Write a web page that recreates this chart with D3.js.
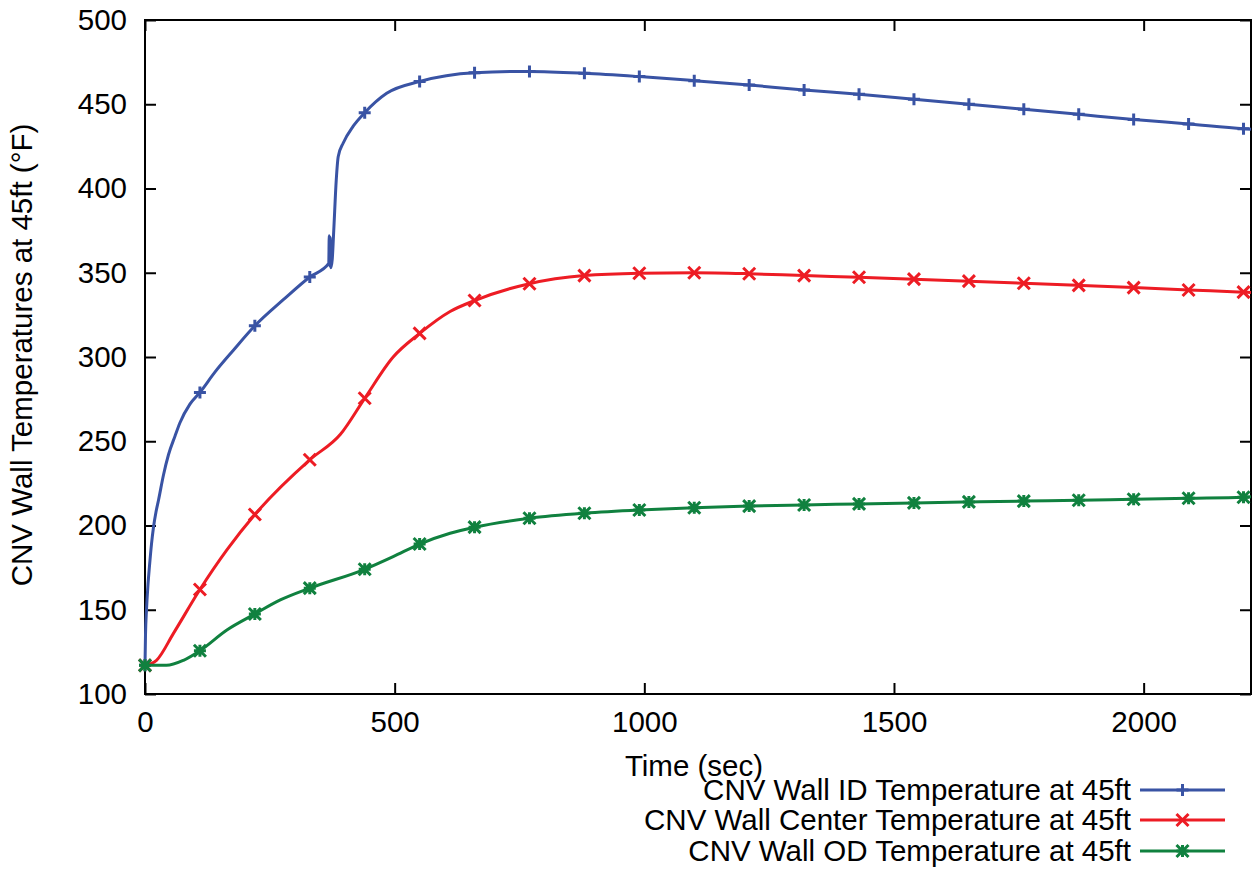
<!DOCTYPE html>
<html>
<head>
<meta charset="utf-8">
<script src="https://cdn.jsdelivr.net/npm/d3@7"></script>
<style>
	body { margin: 0; background: #fff; }
	text { font-family: "Liberation Sans", Arial, sans-serif; fill: #000; }
</style>
</head>
<body>
<div id="chart"></div>
<script>
// time (sec), temperature (F)
const idSeries = [[0,117],[1,135],[3,150],[6,165],[9,176],[13,189],[17,199],[22,208],[27,215],[37,230],[47,242],
	[60,253],[70,261],[90,272],[110,279],[140,291],[177,304],[220,318.5],[277,334],[330,347.5],
	[368,355.5],[369,372],[370,354],[371,371],[372,353],[375,358],[378,375],[383,405],
	[387,419],[397,427],[417,437],[440,445],[484,456.5],[550,463.5],[660,468.7],[770,469.5],[880,468.4],
	[990,466.4],[1100,464],[1210,461.4],[1320,458.5],[1430,456],[1540,453],[1650,450],[1760,447],[1870,444],
	[1980,441],[2090,438.3],[2200,435.5],[2215,435.2]];
const centerSeries = [[0,117],[23,120],[57,136],[110,162],[164,185.5],[220,206.5],[330,239],[391,254],[440,275.5],
	[497,300],[550,314],[611,327],[660,333.5],[770,343.5],[880,348.3],[990,349.7],[1100,350],[1210,349.4],
	[1320,348.3],[1430,347.3],[1540,346.2],[1650,345],[1760,343.8],[1870,342.5],[1980,341.2],[2090,339.8],
	[2200,338.5],[2215,338.3]];
const odSeries = [[0,117],[43,117],[77,120],[110,125.7],[164,138],[220,147.5],[271,155.8],[330,162.8],[440,174],
	[497,181.5],[550,189],[611,195.4],[660,199],[770,204.3],[880,207.3],[990,209.2],[1100,210.5],[1210,211.5],
	[1320,212.2],[1430,212.8],[1540,213.4],[1650,214],[1760,214.5],[1870,215],[1980,215.6],[2090,216.2],
	[2200,216.8],[2215,217]];

const seriesNames = ['CNV Wall ID Temperature at 45ft', 'CNV Wall Center Temperature at 45ft', 'CNV Wall OD Temperature at 45ft'];
const seriesColors = ['#3953a4', '#ed1c24', '#10813f'];
const seriesMarks = ['plus', 'cross', 'star'];
const xTicks = [0, 500, 1000, 1500, 2000];
const yTicks = [100, 150, 200, 250, 300, 350, 400, 450, 500];
const markerStep = 110;

let canvasWidth = 1254, canvasHeight = 871;
let margin = { top: 20, right: 3, bottom: 177, left: 145 };
let width = canvasWidth - margin.left - margin.right;
let height = canvasHeight - margin.top - margin.bottom;

let x = d3.scaleLinear().domain([0, 2215]).range([0, width]);
let y = d3.scaleLinear().domain([100, 500]).range([height, 0]);

let svg = d3.select('#chart').append('svg')
	.attr('width', canvasWidth)
	.attr('height', canvasHeight)
	.append('g')
		.attr('transform', 'translate(' + margin.left + ',' + margin.top + ')');

// axes, gnuplot style: inward ticks, mirrored
let fontSize = 29.5;
svg.append('g')
	.attr('transform', 'translate(0,' + height + ')')
	.call(d3.axisBottom(x).tickValues(xTicks).tickFormat(d3.format('d')).tickSizeInner(-11).tickSizeOuter(0).tickPadding(17))
	.call(g => g.select('.domain').remove())
	.call(g => g.selectAll('line').attr('stroke-width', 2))
	.call(g => g.selectAll('text').attr('font-size', fontSize).attr('font-family', null));
svg.append('g')
	.call(d3.axisTop(x).tickValues(xTicks).tickSizeInner(-11).tickSizeOuter(0).tickFormat(''))
	.call(g => g.select('.domain').remove())
	.call(g => g.selectAll('line').attr('stroke-width', 2));
svg.append('g')
	.call(d3.axisLeft(y).tickValues(yTicks).tickSizeInner(-11).tickSizeOuter(0).tickPadding(18))
	.call(g => g.select('.domain').remove())
	.call(g => g.selectAll('line').attr('stroke-width', 2))
	.call(g => g.selectAll('text').attr('font-size', fontSize).attr('font-family', null));
svg.append('g')
	.attr('transform', 'translate(' + width + ',0)')
	.call(d3.axisRight(y).tickValues(yTicks).tickSizeInner(-11).tickSizeOuter(0).tickFormat(''))
	.call(g => g.select('.domain').remove())
	.call(g => g.selectAll('line').attr('stroke-width', 2));

svg.append('rect')
	.attr('width', width)
	.attr('height', height)
	.attr('fill', 'none')
	.attr('stroke', '#000')
	.attr('stroke-width', 2);

// axis labels
svg.append('text')
	.attr('x', 549)
	.attr('y', height + 82)
	.attr('text-anchor', 'middle')
	.attr('font-size', fontSize)
	.text('Time (sec)');
svg.append('text')
	.attr('transform', 'translate(' + (-113) + ',' + (335) + ') rotate(-90)')
	.attr('text-anchor', 'middle')
	.attr('font-size', fontSize)
	.text('CNV Wall Temperatures at 45ft (°F)');

// marker shapes
function markPath(type, s) {
	if (type === 'plus') return 'M' + (-s) + ',0H' + s + 'M0,' + (-s) + 'V' + s;
	if (type === 'cross') return 'M' + (-s) + ',' + (-s) + 'L' + s + ',' + s + 'M' + (-s) + ',' + s + 'L' + s + ',' + (-s);
	return 'M' + (-s) + ',' + (-s) + 'L' + s + ',' + s + 'M' + (-s) + ',' + s + 'L' + s + ',' + (-s) +
		'M' + (-s) + ',0H' + s + 'M0,' + (-s) + 'V' + s;
}

let line = d3.line()
	.x((o) => x(o[0]))
	.y((o) => y(o[1]))
	.curve(d3.curveMonotoneX);

let allSeries = [idSeries, centerSeries, odSeries];
let plot = svg.append('g');
allSeries.forEach((data, i) => {
	let g = plot.append('g');
	g.append('path')
		.datum(data)
		.attr('d', line)
		.attr('fill', 'none')
		.attr('stroke', seriesColors[i])
		.attr('stroke-width', 3);
	g.selectAll('.mark')
		.data(data.filter((o) => o[0] % markerStep === 0))
		.enter().append('path')
			.attr('class', 'mark')
			.attr('transform', (o) => 'translate(' + x(o[0]) + ',' + y(o[1]) + ')')
			.attr('d', markPath(seriesMarks[i], 6))
			.attr('fill', 'none')
			.attr('stroke', seriesColors[i])
			.attr('stroke-width', 3);
});

// legend
let legendY = [770, 800, 831];
seriesNames.forEach((name, i) => {
	let g = svg.append('g').attr('transform', 'translate(0,' + legendY[i] + ')');
	g.append('text')
		.attr('x', 986)
		.attr('dy', '0.35em')
		.attr('text-anchor', 'end')
		.attr('font-size', fontSize)
		.text(name);
	g.append('line')
		.attr('x1', 995).attr('x2', 1080)
		.attr('stroke', seriesColors[i])
		.attr('stroke-width', 3);
	g.append('path')
		.attr('transform', 'translate(1037.5,0)')
		.attr('d', markPath(seriesMarks[i], 6))
		.attr('fill', 'none')
		.attr('stroke', seriesColors[i])
		.attr('stroke-width', 3);
});
</script>
</body>
</html>
